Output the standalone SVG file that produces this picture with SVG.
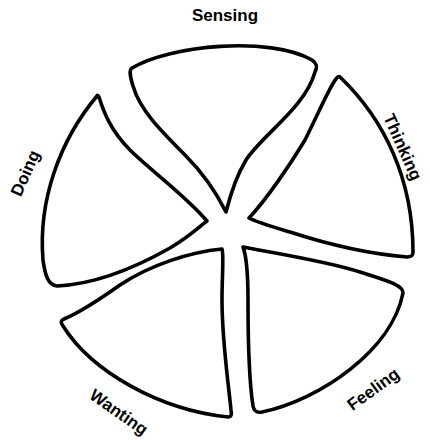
<svg xmlns="http://www.w3.org/2000/svg" width="430" height="442" viewBox="0 0 430 442">
<style>
.petal{fill:#fff;stroke:#000;stroke-width:3.6;stroke-linejoin:round}
.lbl{font-family:"Liberation Sans",Arial,sans-serif;font-weight:bold;font-size:17px;fill:#000;text-anchor:middle}
</style>
<rect width="430" height="442" fill="#fff"/>
<g id="sensing">
<path class="petal" d="M132,68 C170,45 270,36 312,60 C318,64 317,68 315,72 C305,108 262,135 246,160 C234,180 229,200 226,212 C215,190 200,170 185,155 C160,130 140,110 133,86 C130,76 129,70 132,68 Z"/>
<text class="lbl" x="225" y="21">Sensing</text>
</g>
<g id="thinking">
<path class="petal" d="M340,77 C385,120 413,180 413,252 C413,256 411,257 407,257 C370,254 330,245 290,232 C270,226 256,222 249,218 C266,200 290,165 305,140 C320,110 330,86 336,79 C337,77 339,76 340,77 Z"/>
<text class="lbl" transform="translate(403,147) rotate(66)" y="6">Thinking</text>
</g>
<g id="feeling">
<path class="petal" d="M243,247 C280,254 330,262 360,272 C385,280 404,285 403,293 C392,350 320,400 262,412 C256,413 254,411 253,406 C249,380 248,330 248,300 C248,270 246,255 243,247 Z"/>
<text class="lbl" transform="translate(373,389) rotate(-36)" y="6">Feeling</text>
</g>
<g id="wanting">
<path class="petal" d="M222,249 C190,252 150,265 120,285 C96,302 76,314 64,319 C60,321 61,323 63,326 C92,372 160,410 228,417 C231,417 232,415 231,410 C228,380 222,340 222,300 C222,275 224,255 222,249 Z"/>
<text class="lbl" transform="translate(119,412) rotate(35)" y="6">Wanting</text>
</g>
<g id="doing">
<path class="petal" d="M97,96 C60,140 38,200 43,260 C45,275 48,285 57,286 C100,284 140,265 170,248 C190,236 200,226 207,221 C185,195 150,170 130,150 C110,130 103,110 99,97 C98,95 97,95 97,96 Z"/>
<text class="lbl" transform="translate(25,173) rotate(-66)" y="6">Doing</text>
</g>
<g id="connectors"></g>
</svg>
